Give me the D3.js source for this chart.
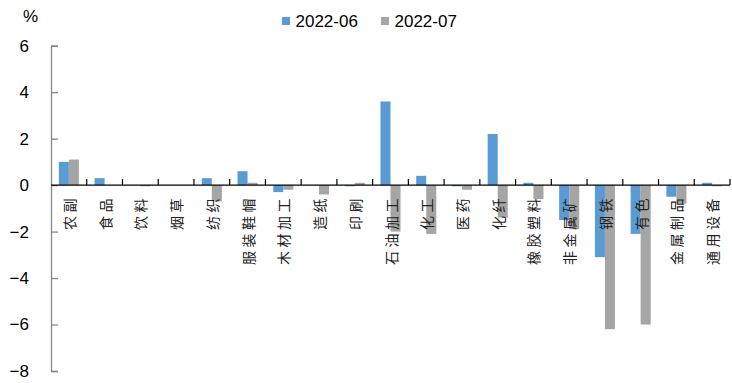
<!DOCTYPE html>
<html>
<head>
<meta charset="utf-8">
<script src="https://cdn.jsdelivr.net/npm/d3@7"></script>
<style>
  html, body { margin: 0; padding: 0; background: #fff; }
  svg { display: block; }
</style>
</head>
<body>
<svg id="chart" width="732" height="383"></svg>
<script>
// Industry categories (x axis)
const categories = ["农副", "食品", "饮料", "烟草", "纺织", "服装鞋帽", "木材加工", "造纸", "印刷",
  "石油加工", "化工", "医药", "化纤", "橡胶塑料", "非金属矿", "钢铁", "有色", "金属制品", "通用设备"];
// Series names
const seriesNames = ["2022-06", "2022-07"];
// Values, %
const values0606 = [1.0, 0.3, 0.0, 0.0, 0.3, 0.6, -0.3, 0.0, -0.05, 3.6, 0.4, -0.05, 2.2, 0.1, -1.5, -3.1, -2.1, -0.5, 0.1];
const values0607 = [1.1, 0.0, -0.05, 0.0, -0.7, 0.1, -0.2, -0.4, 0.1, -2.0, -2.1, -0.2, -1.4, -0.6, -1.9, -6.2, -6.0, -0.8, -0.05];
// Y axis ticks
const yTicks = [-8, -6, -4, -2, 0, 2, 4, 6];

const colors = ["#5B9BD5", "#A5A5A5"];
const svg = d3.select("#chart");

const plotLeft = 51, plotRight = 730, plotTop = 45.7, plotBottom = 371;

const x = d3.scaleBand().domain(categories).range([plotLeft, plotRight]).padding(0);
const inner = d3.scaleBand().domain(seriesNames).range([0, x.bandwidth()]).paddingInner(0).paddingOuter(0.78);
const y = d3.scaleLinear().domain([-8, 6]).range([plotBottom, plotTop]);

const rows = categories.map((c, i) => ({ c, vals: [values0606[i], values0607[i]] }));

// Bars
const groups = svg.append("g").selectAll("g").data(rows).join("g")
  .attr("transform", d => `translate(${x(d.c)},0)`);
groups.selectAll("rect").data(d => d.vals.map((v, k) => ({ v, k })))
  .join("rect")
  .attr("x", d => inner(seriesNames[d.k]))
  .attr("width", inner.bandwidth())
  .attr("y", d => y(Math.max(0, d.v)))
  .attr("height", d => Math.abs(y(d.v) - y(0)))
  .attr("fill", d => colors[d.k]);

// Y axis
const yAxis = d3.axisLeft(y).tickValues(yTicks).tickSize(-7).tickPadding(22).tickFormat(d3.format("d"));
const gy = svg.append("g").attr("transform", `translate(${plotLeft},0)`).call(yAxis);
gy.select(".domain").attr("stroke", "#868686").attr("stroke-width", 1.3);
gy.selectAll(".tick line").attr("stroke", "#868686").attr("stroke-width", 1.3);
gy.selectAll(".tick text").attr("font-family", "Liberation Sans, Arial, sans-serif")
  .attr("font-size", 17).attr("fill", "#000");

// X axis at zero with upward ticks on category boundaries
const gx = svg.append("g");
gx.append("line").attr("x1", plotLeft).attr("x2", plotRight).attr("y1", y(0)).attr("y2", y(0))
  .attr("stroke", "#000").attr("stroke-width", 1.3);
gx.selectAll("line.tk").data(categories.slice(1).concat(["__end"]))
  .join("line").attr("class", "tk")
  .attr("x1", d => d === "__end" ? plotRight : x(d))
  .attr("x2", d => d === "__end" ? plotRight : x(d))
  .attr("y1", y(0)).attr("y2", y(0) - 6)
  .attr("stroke", "#000").attr("stroke-width", 1.2);

// Category labels, rotated, hanging below the zero line
svg.append("g").selectAll("text").data(categories).join("text")
  .attr("transform", d => `translate(${x(d) + x.bandwidth() / 2 + 6},${y(0) + 10}) rotate(-90)`)
  .attr("text-anchor", "end")
  .attr("font-family", "Noto Sans CJK SC, sans-serif")
  .attr("font-size", 14)
  .attr("letter-spacing", 3.5)
  .attr("fill", "#222")
  .text(d => d);

// Unit label
svg.append("text").attr("x", 23).attr("y", 22)
  .attr("font-family", "Liberation Sans, Arial, sans-serif").attr("font-size", 17).text("%");

// Legend
const legendX = [282, 381];
const lg = svg.append("g").selectAll("g").data(seriesNames).join("g")
  .attr("transform", (d, i) => `translate(${legendX[i]},17)`);
lg.append("rect").attr("width", 8).attr("height", 8).attr("fill", (d, i) => colors[i]);
lg.append("text").attr("x", 13.5).attr("y", 9.5)
  .attr("font-family", "Liberation Sans, Arial, sans-serif").attr("font-size", 17).attr("fill", "#000")
  .text(d => d);
</script>
</body>
</html>
